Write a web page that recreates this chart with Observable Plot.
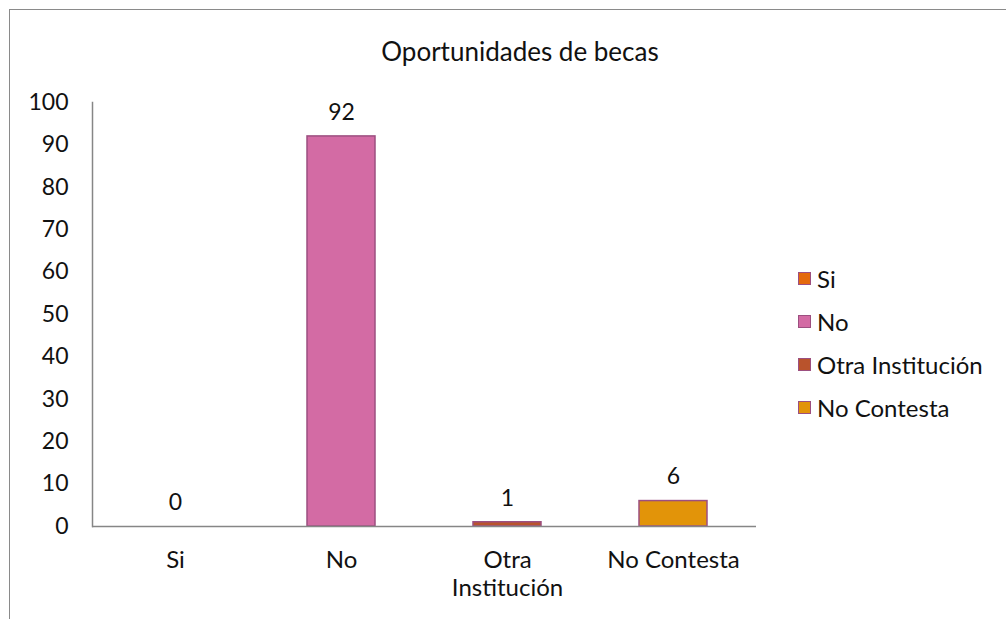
<!DOCTYPE html>
<html>
<head>
<meta charset="utf-8">
<script src="https://cdn.jsdelivr.net/npm/d3@7"></script>
<script src="https://cdn.jsdelivr.net/npm/@observablehq/plot@0.6"></script>
<style>
  html, body { margin: 0; padding: 0; background: #fff; overflow: hidden; }
  #wrap { position: relative; width: 1006px; height: 619px; overflow: hidden; font-family: Lato, sans-serif; }
  #frame { position: absolute; left: 9px; top: 9px; width: 1200px; height: 800px; border: 1px solid #8a8a8a; box-sizing: border-box; }
  #title { position: absolute; left: 92px; width: 856px; top: 35px; text-align: center; font-size: 26px; color: #111; }
  #legend { position: absolute; left: 798px; top: 257px; font-size: 24px; color: #111; }
  .item { display: flex; align-items: center; height: 43px; }
  .sw { width: 11px; height: 11px; border: 1px solid #9c4f80; margin-right: 6px; }
  #chart { position: absolute; left: 0; top: 0; }
</style>
</head>
<body>
<div id="wrap">
  <div id="frame"></div>
  <div id="chart"></div>
  <div id="title">Oportunidades de becas</div>
  <div id="legend"></div>
</div>
<script>
const categories = ["Si", "No", "Otra Institución", "No Contesta"];
const values = [0, 92, 1, 6];
const colors = ["#E4690C", "#D36BA4", "#B9532C", "#E29409"];
const tickLabels = ["Si", "No", "Otra\nInstitución", "No Contesta"];
const yTicks = [0, 10, 20, 30, 40, 50, 60, 70, 80, 90, 100];

const data = categories.map((c, i) => ({ cat: c, value: values[i], color: colors[i] }));

const plot = Plot.plot({
  width: 1006,
  height: 619,
  marginLeft: 92,
  marginRight: 250,
  marginTop: 102,
  marginBottom: 93,
  style: { fontFamily: "Lato, sans-serif", fontSize: "23px", color: "#111", background: "transparent" },
  x: { domain: categories, paddingInner: 0.59, paddingOuter: 0.295 },
  y: { domain: [0, 100] },
  marks: [
    Plot.barY(data, { x: "cat", y: "value", fill: "color", stroke: "#9c4f80", strokeWidth: 1.5 }),
    Plot.text(data, { x: "cat", y: "value", text: d => String(d.value), dy: -24, fontSize: 23, fill: "#111" }),
    Plot.axisY({ ticks: yTicks, tickSize: 0, tickPadding: 24, label: null, fontSize: 23 }),
    Plot.axisX({ tickSize: 0, tickPadding: 22, label: null, tickFormat: d => tickLabels[categories.indexOf(d)], fontSize: 24, lineHeight: 1.15 }),
    Plot.frame({ anchor: "left", stroke: "#868686", strokeWidth: 1.5 }),
    Plot.ruleY([0], { stroke: "#868686", strokeWidth: 1.5 })
  ]
});
document.getElementById("chart").appendChild(plot);

const legend = document.getElementById("legend");
categories.forEach((c, i) => {
  const it = document.createElement("div");
  it.className = "item";
  const sw = document.createElement("div");
  sw.className = "sw";
  sw.style.background = colors[i];
  const tx = document.createElement("span");
  tx.textContent = c;
  it.appendChild(sw);
  it.appendChild(tx);
  legend.appendChild(it);
});
</script>
</body>
</html>
